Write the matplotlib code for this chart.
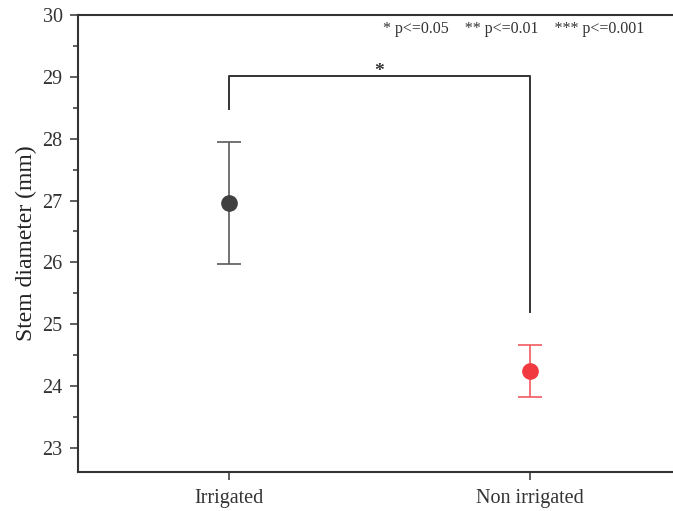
import matplotlib
matplotlib.use("Agg")
import matplotlib.pyplot as plt
from matplotlib.ticker import MultipleLocator

groups = ["Irrigated", "Non irrigated"]
means = [26.96, 24.25]
err_low = [0.98, 0.43]
err_high = [0.99, 0.41]
colors = ["#404040", "#f03a40"]
ecolors = ["#5a5a5a", "#f05a60"]
bracket_top = 29.01
bracket_left_bottom = 28.48
bracket_right_bottom = 25.19
sig_label = "*"
legend_text = "* p<=0.05    ** p<=0.01    *** p<=0.001"

plt.rcParams['font.family'] = ['Liberation Serif', 'DejaVu Serif']

fig = plt.figure(figsize=(6.73, 5.11), dpi=100)
W, H = 673, 511
ax = fig.add_axes([78 / W, 1 - 472 / H, 602 / W, (472 - 15) / H])

xs = [1, 2]
for x, m, lo, hi, c, ec in zip(xs, means, err_low, err_high, colors, ecolors):
    ax.errorbar([x], [m], yerr=[[lo], [hi]], fmt='o', color=c, ecolor=ec,
                markersize=11, elinewidth=1.2, capsize=8.5, capthick=1.2, zorder=3)

ax.plot([1, 1, 2, 2], [bracket_left_bottom, bracket_top, bracket_top, bracket_right_bottom],
        color="#333333", lw=1.4)
ax.text(1.5, bracket_top + 0.08, sig_label, ha='center', va='center', fontsize=14,
        fontweight='bold', color="#333333")

ax.set_xlim(0.5, 2.5)
ax.set_ylim(22.61, 30.0)
ax.set_xticks(xs)
ax.set_xticklabels(groups, fontsize=14.5)
ax.yaxis.set_major_locator(MultipleLocator(1))
ax.yaxis.set_minor_locator(MultipleLocator(0.5))
ax.tick_params(axis='y', which='major', direction='out', length=6, width=1.1, labelsize=14.5,
               colors="#333333", pad=5)
ax.tick_params(axis='y', which='minor', direction='out', length=3.5, width=1.1, colors="#333333")
ax.tick_params(axis='x', which='major', direction='out', length=6, width=1.1, labelsize=14.5,
               colors="#333333", pad=6)
for lab in ax.get_xticklabels() + ax.get_yticklabels():
    lab.set_color("#333333")
ax.set_ylabel("Stem diameter (mm)", fontsize=17, color="#222222", labelpad=4)

for s in ['left', 'bottom', 'top']:
    ax.spines[s].set_color("#333333")
    ax.spines[s].set_linewidth(1.5)
ax.spines['right'].set_visible(False)

fig.text(383 / W, 1 - 29 / H, legend_text, ha='left', va='center', fontsize=11.5, color="#333333")

fig.savefig("out.png", dpi=100)
